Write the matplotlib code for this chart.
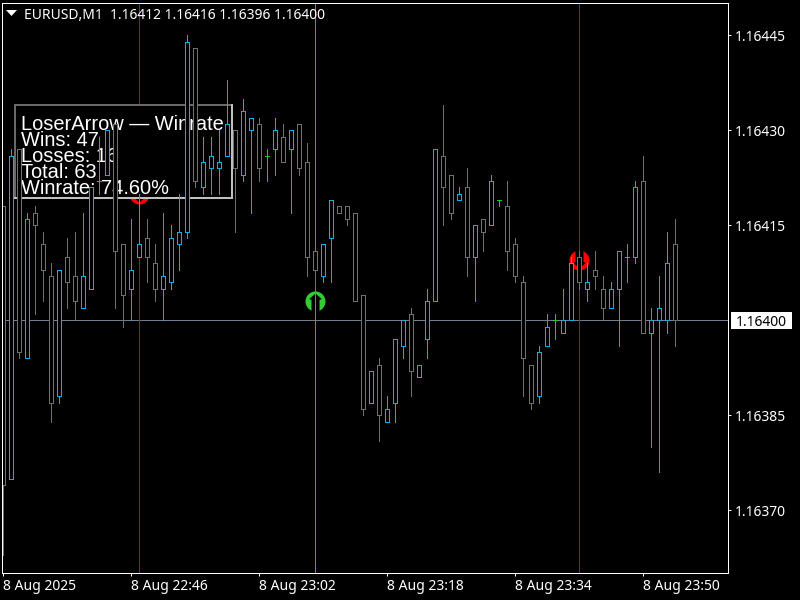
import matplotlib
matplotlib.use("Agg")
import matplotlib.pyplot as plt
import numpy as np
from matplotlib.markers import MarkerStyle
from matplotlib.path import Path
from matplotlib.patches import Rectangle, Polygon
from matplotlib.transforms import IdentityTransform, blended_transform_factory

W, H = 800, 600
BASE = 1.16400
POINT = 0.00001

high_pts = [18,27,27,17,18,14,9,8,13,14,17,21,29,30,31,12,16,20,16,12,17,15,20,45,43,29,29,30,38,30,35,32,32,27,32,31,30,31,28,11,12,19,18,18,17,4,-8,-6,-12,-3,0,2,-7,5,27,34,23,21,24,15,16,23,19,22,13,7,-7,-4,1,1,5,10,11,9,11,7,6,11,12,22,26,2,7,14,16]
low_pts = [-37,-25,-6,-6,1,3,-16,-13,2,0,2,5,20,23,2,-1,0,10,6,3,0,5,8,13,21,20,20,20,26,14,22,17,22,22,23,25,17,23,7,5,6,6,17,15,3,-15,-13,-19,-16,-16,-6,-12,-9,-6,3,15,16,19,7,3,11,15,18,8,6,-12,-14,-13,-4,-3,-2,0,5,3,5,0,2,-4,6,9,-2,-20,-24,-2,-4]
open_pts = [18,-25,27,-6,17,12,7,-12,10,7,2,5,22,23,31,12,5,10,13,9,5,6,12,14,43,21,24,24,26,30,23,30,31,26,27,29,27,31,25,11,7,13,18,18,17,4,-13,-7,-16,-13,-4,1,-9,-3,3,26,23,19,21,10,16,15,19,18,12,6,-7,-12,-4,0,-2,0,10,5,8,5,2,5,10,10,22,-2,0,0,12]
close_pts = [-26,26,-5,16,15,8,-13,8,6,3,7,21,22,30,11,4,8,12,10,5,7,13,14,44,22,25,26,25,31,24,33,32,24,26,30,25,30,24,10,8,12,19,17,16,3,-14,-8,-15,-14,-3,0,-8,-7,3,27,21,17,20,10,15,14,22,19,11,7,-6,-13,-5,-1,0,0,9,6,6,7,2,5,11,10,21,-2,0,2,9,0]

arrow_buy_idx = [39]
arrow_buy_pts = [3]
arrow_sell_idx = [17, 72]
arrow_sell_pts = [20, 9.5]
vline_sell_idx = [17, 72]
vline_buy_idx = [39]

y_ticks = [1.16370, 1.16385, 1.16415, 1.16430, 1.16445]
x_tick_idx = [0, 16, 32, 48, 64, 80]
x_tick_labels = ["8 Aug 2025", "8 Aug 22:46", "8 Aug 23:02", "8 Aug 23:18", "8 Aug 23:34", "8 Aug 23:50"]
current_price = 1.16400
header = "EURUSD,M1  1.16412 1.16416 1.16396 1.16400"
stats_lines = ["LoserArrow \u2014 Winrate", "Wins: 47", "Losses: 16", "Total: 63", "Winrate: 74.60%"]
stats_baselines = [129.5, 145.5, 161.5, 177.5, 193.5]

BLUE = "#00B2EE"
GREY = "#707070"
DOJI = "#00DD00"
UI_FONT = "Noto Sans"
STATS_FONT = "Liberation Sans"
UI_SIZE = 10
px = 72 / 100

to_price = lambda pts: BASE + np.asarray(pts, dtype=float) * POINT
high, low, opn, cls = map(to_price, (high_pts, low_pts, open_pts, close_pts))
idx = np.arange(len(high))
colors = np.where(cls > opn + POINT / 2, BLUE, np.where(cls < opn - POINT / 2, GREY, DOJI))

fig = plt.figure(figsize=(W / 100, H / 100), dpi=100, facecolor="black")
L, R, T, B = 1.5, 727.5, 2.5, 572.5
PX_PER_POINT = 570 / 90
ax = fig.add_axes([L / W, 1 - B / H, (R - L) / W, (B - T) / H], facecolor="black")
ax.set_xlim((L - 3.0) / 8, (R - 3.0) / 8)
ax.set_ylim(BASE + (320.17 - B) / PX_PER_POINT * POINT, BASE + (320.17 - T) / PX_PER_POINT * POINT)

for s in ax.spines.values():
    s.set_color("white")
    s.set_linewidth(px)
ax.spines["left"].set_zorder(20)
ax.yaxis.tick_right()
ax.set_yticks(y_ticks)
ax.set_yticklabels([f"{v:.5f}" for v in y_ticks], fontname=UI_FONT)
ax.set_xticks(x_tick_idx)
ax.set_xticklabels(x_tick_labels, fontname=UI_FONT, ha="left")
ax.tick_params(axis="both", colors="white", length=3 * px, width=px, labelsize=UI_SIZE)
ax.tick_params(axis="y", pad=4 * px)
ax.tick_params(axis="x", pad=4 * px)

ax.axhline(current_price, color="#708090", lw=px, zorder=1, antialiased=False)

def arrow_marker(up=True):
    s = 1 if up else -1
    verts = [(0, .8*s), (.62, .25*s), (.4, .15*s), (.4, -1.2*s), (-.4, -1.2*s), (-.4, .15*s), (-.62, .25*s), (0, .8*s)]
    return Path(verts, closed=True)

disc = 207
ax.scatter(arrow_buy_idx, to_price(arrow_buy_pts), s=disc, color="#32CD32", lw=0, zorder=2)
ax.scatter(arrow_sell_idx, to_price(arrow_sell_pts), s=disc, color="#FF0000", lw=0, zorder=2)
ax.scatter(arrow_buy_idx, to_price(arrow_buy_pts), s=disc * 1.44, marker=MarkerStyle(arrow_marker(True)), color="black", lw=0, zorder=2.1)
ax.scatter(arrow_sell_idx, to_price(arrow_sell_pts), s=disc * 1.44, marker=MarkerStyle(arrow_marker(False)), color="black", lw=0, zorder=2.1)
xform = ax.get_xaxis_transform()
ax.vlines(vline_sell_idx, 0, 1, transform=xform, color="#DD0000", lw=px, zorder=2.2, antialiased=False)
ax.vlines(vline_buy_idx, 0, 1, transform=xform, color="#32B432", lw=px, zorder=2.2, antialiased=False)

ident = IdentityTransform()
def P(x, y):
    return (x, H - y)

x0, y0, x1, y1 = 15, 104.5, 232, 198
ax.add_patch(Rectangle(P(x0, y1), x1 - x0, y1 - y0, transform=ident, facecolor="black", edgecolor="none", zorder=3, clip_on=False))
ax.plot(*zip(P(x0, y1), P(x0, y0), P(x1, y0)), transform=ident, color="#696969", lw=2 * px, zorder=3.1, solid_joinstyle="miter", solid_capstyle="projecting", antialiased=False)
ax.plot(*zip(P(x0, y1), P(x1, y1), P(x1, y0)), transform=ident, color="#C0C0C0", lw=2 * px, zorder=3.1, solid_joinstyle="miter", solid_capstyle="projecting", antialiased=False)
for line, by in zip(stats_lines, stats_baselines):
    x, y = P(21.3, by)
    ax.text(x, y, line, transform=ident, color="white", fontsize=14.4, family=STATS_FONT, va="baseline", ha="left", zorder=4)

ax.vlines(idx, low, high, colors=colors, lw=px, zorder=5, antialiased=False)
ax.bar(idx, cls - opn, bottom=opn, width=0.5, facecolor="black", edgecolor=colors, lw=px, zorder=6, antialiased=False)

ax.add_patch(Polygon([P(6, 10), P(17, 10), P(11.5, 16)], transform=ident, facecolor="white", edgecolor="none", zorder=10, clip_on=False))
x, y = P(24.5, 19)
ax.text(x, y, header, transform=ident, color="white", fontsize=UI_SIZE, family=UI_FONT, va="baseline", ha="left", zorder=10)

tr = blended_transform_factory(ident, ax.transData)
tag_half = 8.5 / PX_PER_POINT * POINT
ax.add_patch(Rectangle((730.5, current_price - tag_half), 61.5, 2 * tag_half, transform=tr, facecolor="white", edgecolor="none", clip_on=False, zorder=10))
ax.text(736, current_price, f"{current_price:.5f}", transform=tr, color="black", fontsize=UI_SIZE, family=UI_FONT, va="center_baseline", ha="left", clip_on=False, zorder=11)

fig.savefig("out.png", dpi=100, facecolor="black")
